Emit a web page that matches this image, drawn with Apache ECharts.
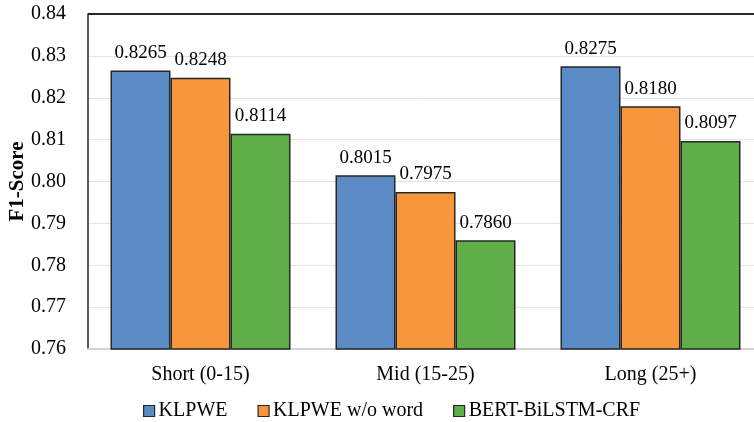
<!DOCTYPE html>
<html><head><meta charset="utf-8">
<script src="https://cdn.jsdelivr.net/npm/echarts@6/dist/echarts.min.js"></script>
<style>html,body{margin:0;padding:0;background:#fff}#c{width:754px;height:422px}</style>
</head><body><div id="c"></div>
<script>
const categories = ['Short (0-15)', 'Mid (15-25)', 'Long (25+)'];
const klpwe = [0.8265, 0.8015, 0.8275];
const klpweNoWord = [0.8248, 0.7975, 0.8180];
const bert = [0.8114, 0.7860, 0.8097];
const seriesNames = ['KLPWE', 'KLPWE w/o word', 'BERT-BiLSTM-CRF'];
const colors = ['#5b8bc4', '#f7963c', '#5fae48'];
const font = '"Liberation Serif", "Times New Roman", serif';

const chart = echarts.init(document.getElementById('c'));
function mk(name, data, color) {
  return {
    name, type: 'bar', data, barGap: '0%', barCategoryGap: '20%',
    itemStyle: { color, borderColor: '#262626', borderWidth: 1.5 },
    label: { show: true, position: 'top', distance: 8, color: '#000', fontFamily: font, fontSize: 19,
      formatter: p => p.value.toFixed(4) }
  };
}
chart.setOption({
  animation: false,
  grid: { left: 88, top: 14, width: 675, height: 335, containLabel: false, outerBoundsMode: 'none' },
  legend: {
    top: 396, left: 138, itemWidth: 11, itemHeight: 11, itemGap: 30,
    icon: 'rect',
    textStyle: { fontFamily: font, fontSize: 20, color: '#000', padding: [0, 0, 0, -1] },
    itemStyle: { borderColor: '#262626', borderWidth: 1.2 },
    data: seriesNames
  },
  xAxis: {
    type: 'category', data: categories,
    axisLine: { lineStyle: { color: '#d4d4d4', width: 2 } },
    axisTick: { show: false },
    axisLabel: { fontFamily: font, fontSize: 20, color: '#000', margin: 16 }
  },
  yAxis: {
    type: 'value', min: 0.76, max: 0.84, interval: 0.01,
    name: 'F1-Score', nameLocation: 'middle', nameGap: 60, nameRotate: 90, nameMoveOverlap: false,
    nameTextStyle: { fontFamily: font, fontSize: 21, fontWeight: 'bold', color: '#000' },
    axisLine: { show: true, lineStyle: { color: '#262626', width: 1.5 } },
    axisTick: { show: false },
    axisLabel: { fontFamily: font, fontSize: 20, color: '#000', margin: 22, formatter: v => v.toFixed(2) },
    splitLine: { lineStyle: { color: '#e3e3e3', width: 1 } }
  },
  graphic: [{ type: 'line', shape: { x1: 88, y1: 14, x2: 754, y2: 14 }, style: { stroke: '#262626', lineWidth: 2 }, z: 10 }],
  series: [mk(seriesNames[0], klpwe, colors[0]), mk(seriesNames[1], klpweNoWord, colors[1]), mk(seriesNames[2], bert, colors[2])]
});
</script></body></html>
